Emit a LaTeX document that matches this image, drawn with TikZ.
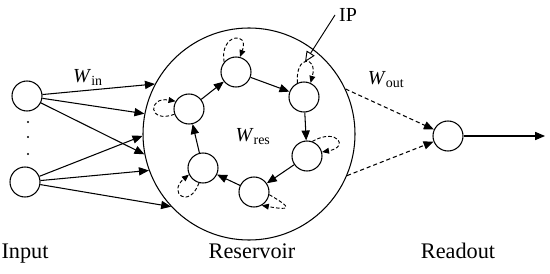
\documentclass[tikz,border=0pt]{standalone}
\usepackage{fontspec}
\setmainfont{Liberation Serif}
\usetikzlibrary{arrows.meta,positioning,calc}
\tikzset{
  neuron/.style={draw,circle,minimum size=0.9cm,inner sep=0pt,line width=0.9pt,fill=white},
  resbox/.style={draw,circle,minimum size=6.36cm,inner sep=0pt,line width=0.9pt},
  lbl/.style={font=\fontsize{19}{21}\selectfont},
  wlbl/.style={font=\fontsize{17}{19}\selectfont},
  arr/.style={-{Triangle[length=8.5pt,width=7pt]},line width=0.9pt},
  darr/.style={arr,dash pattern=on 3.5pt off 2.5pt},
  selfarr/.style={-{Triangle[length=6pt,width=5pt]},line width=0.8pt,
                  dash pattern=on 3pt off 1.8pt,distance=0.85cm},
  iparr/.style={-{Triangle[open,length=9pt,width=8pt]},line width=0.8pt},
}
\newcommand{\wsub}[1]{\textit{W}\textsubscript{#1}}

\begin{document}
\begin{tikzpicture}[x=0.03cm,y=0.03cm]
  \useasboundingbox (0,0) rectangle (550,273);
  % input layer
  \node[neuron] (in1) at (27,177) {};
  \node[neuron] (in2) at (25,91) {};
  \foreach \y in {151,136,119} \fill (28,\y) circle (1.1);
  % reservoir
  \node[resbox] (res) at (249,139) {};
  \node[neuron] (r1) at (236,201) {};
  \node[neuron] (r2) at (304,176) {};
  \node[neuron] (r3) at (307,117) {};
  \node[neuron] (r4) at (254,81) {};
  \node[neuron] (r5) at (203,105) {};
  \node[neuron] (r6) at (189,164) {};
  \node[wlbl] (wres) at (253,136) {\wsub{res}};
  % readout
  \node[neuron] (out) at (448,137) {};
  \coordinate (y) at (545,137);
  % labels
  \node[wlbl] (win) at (88,196) {\wsub{in}};
  \node[wlbl] (wout) at (386,193) {\wsub{out}};
  \node[wlbl] (ip) at (348,258) {IP};
  \coordinate (iptip) at (305,211);
  \node[lbl,anchor=base] (linput) at (25,15) {Input};
  \node[lbl,anchor=base] (lres) at (252,15) {Reservoir};
  \node[lbl,anchor=base] (lread) at (458,15) {Readout};
  % input weights
  \foreach \a in {152,169,191} \draw[arr] (in1) -- (res.\a);
  \foreach \a in {181,200,223} \draw[arr] (in2) -- (res.\a);
  % reservoir ring
  \draw[arr] (r1) -- (r2); \draw[arr] (r2) -- (r3);
  \draw[arr] (r3) -- (r4); \draw[arr] (r4) -- (r5);
  \draw[arr] (r5) -- (r6); \draw[arr] (r6) -- (r1);
  % self loops
  \draw[selfarr] (r1.140) to[out=100,in=70] (r1.75);
  \draw[selfarr] (r2.115) to[out=95,in=75] (r2.65);
  \draw[selfarr] (r3.70) to[out=30,in=10] (r3.15);
  \draw[selfarr] (r4.-10) to[out=-30,in=-10] (r4.-60);
  \draw[selfarr] (r5.-105) to[out=-110,in=-140] (r5.-155);
  \draw[selfarr] (r6.200) to[out=200,in=170] (r6.150);
  \draw[iparr] (ip.west) -- (iptip);
  % output weights
  \draw[darr] (res.25) -- (out);
  \draw[darr] (res.-23) -- (out);
  \draw[arr] (out) -- (y);
\end{tikzpicture}
\end{document}
